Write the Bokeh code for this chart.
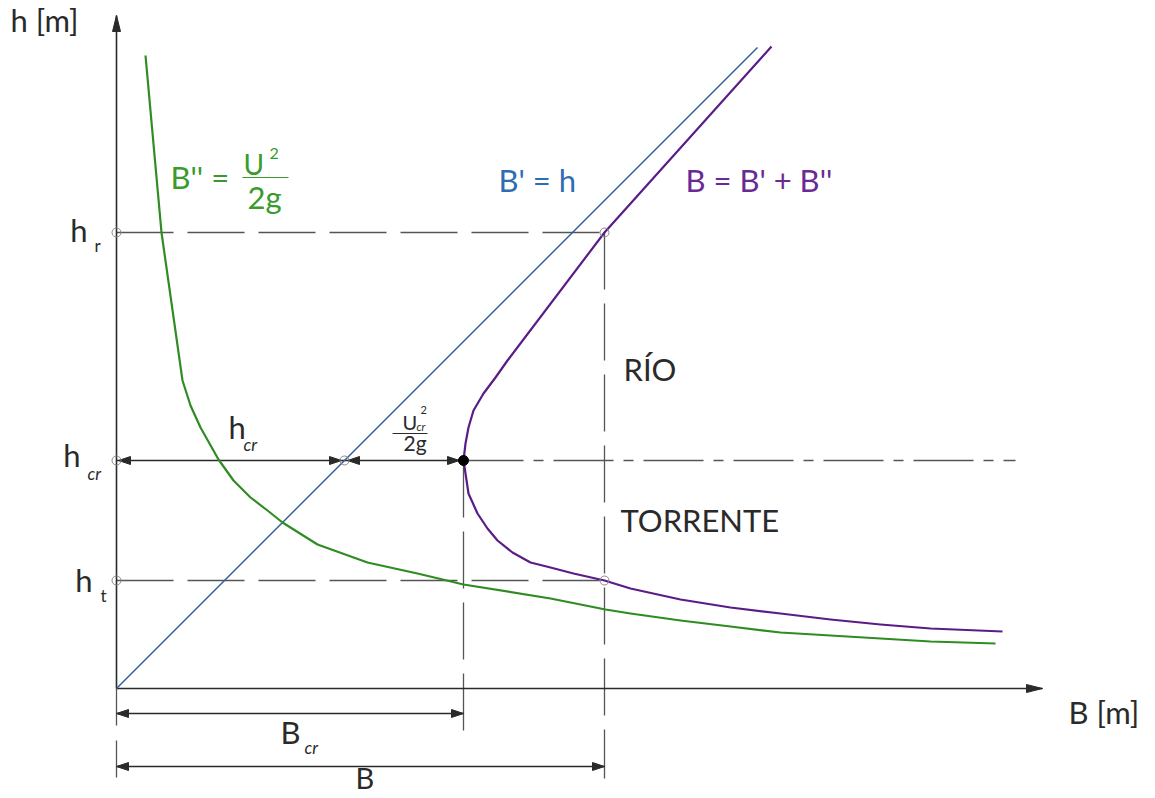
from bokeh.plotting import figure
from bokeh.models import Range1d
from bokeh.core.properties import value
from bokeh.embed import file_html
from bokeh.resources import INLINE

# Specific energy diagram of a channel section (all values in m)
h_r = 4.56     # subcritical depth (río)
h_cr = 2.28    # critical depth
h_t = 1.08     # supercritical depth (torrente)
B_cr = 3.47    # minimum specific energy
B_rt = 4.88    # specific energy shared by h_r and h_t
h_top = 6.73   # end of the h axis
B_end = 9.26   # end of the B axis
h_dash_end = 8.99  # end of the critical-depth dash-dot line

# B' = h  (potential term)
pot_B = [0.0, 6.41]
pot_h = [0.0, 6.41]

# B'' = U^2 / 2g  (kinetic term)
kin_B = [0.29, 0.45, 0.66, 0.74, 0.84, 1.02, 1.17, 1.34, 1.51, 1.66, 2.01, 2.51,
         3.01, 3.47, 4.34, 4.89, 5.14, 5.64, 6.14, 6.64, 7.14, 7.64, 8.14, 8.79]
kin_h = [6.33, 4.56, 3.08, 2.83, 2.61, 2.29, 2.08, 1.91, 1.78, 1.66, 1.44, 1.26,
         1.15, 1.04, 0.90, 0.79, 0.75, 0.68, 0.62, 0.56, 0.53, 0.50, 0.47, 0.45]

# B = B' + B''  (total specific energy)
tot_B = [6.55, 4.88, 3.91, 3.79, 3.67, 3.57, 3.52, 3.49, 3.47, 3.49, 3.52, 3.61,
         3.71, 3.81, 3.96, 4.14, 4.34, 4.57, 4.88, 5.14, 5.64, 6.14, 6.64, 7.14,
         7.64, 8.14, 8.86]
tot_h = [6.42, 4.56, 3.28, 3.11, 2.95, 2.78, 2.61, 2.45, 2.28, 2.15, 1.95, 1.75,
         1.60, 1.48, 1.36, 1.26, 1.21, 1.15, 1.08, 1.00, 0.89, 0.81, 0.75, 0.69,
         0.64, 0.60, 0.57]

# dimension line levels below the B axis
dim_Bcr = -0.25
dim_B = -0.78
ext_low = -0.90
ext_cr_low = -0.47

PX = 0.01  # one screen pixel in data units (same scale on both axes)

GREEN = "#2f8c22"
GREEN_T = "#3a9a2c"
PURPLE = "#5a1c86"
PURPLE_T = "#6a2a94"
BLUE = "#2b5f93"
BLUE_T = "#2f6db2"
INK = "#2a2a2a"
GREY = "#555555"
FONT = value("Lato")

p = figure(width=1155, height=798, output_backend="svg", toolbar_location=None,
           x_range=Range1d(-1.16, 10.39), y_range=Range1d(-1.10, 6.88),
           x_axis_type=None, y_axis_type=None, min_border=0)
p.grid.visible = False
p.outline_line_color = None
p.background_fill_color = "white"
p.border_fill_color = "white"

# reference levels
p.segment(x0=[0, 0], y0=[h_r, h_t], x1=[B_rt, B_rt], y1=[h_r, h_t],
          line_color=GREY, line_width=1.3, line_dash="57 14")
p.segment(x0=[B_cr, B_rt], y0=[h_cr, h_r], x1=[B_cr, B_rt], y1=[ext_cr_low, ext_low],
          line_color=GREY, line_width=1.3, line_dash="57 14")
p.segment(x0=[0], y0=[0], x1=[0], y1=[ext_low],
          line_color=GREY, line_width=1.3, line_dash="37 15")
p.segment(x0=[B_cr], y0=[h_cr], x1=[h_dash_end], y1=[h_cr],
          line_color=GREY, line_width=1.3, line_dash="60 10 10 10")

# dimension lines
p.segment(x0=[0, 0, 0], y0=[h_cr, dim_Bcr, dim_B], x1=[B_cr, B_cr, B_rt],
          y1=[h_cr, dim_Bcr, dim_B], line_color=INK, line_width=1.3)

# axes
p.segment(x0=[0, 0], y0=[0, 0], x1=[0, B_end], y1=[h_top, 0],
          line_color=INK, line_width=1.6)

# curves
p.line(pot_B, pot_h, line_color=BLUE, line_width=1.4)
p.line(kin_B, kin_h, line_color=GREEN, line_width=2.2, line_join="round")
p.line(tot_B, tot_h, line_color=PURPLE, line_width=2.2, line_join="round")


def head(xt, yt, dx, dy, length=12, width=8):
    """Filled triangular arrow head with its tip at (xt, yt), pointing along (dx, dy)."""
    L = length * PX
    W = width * PX / 2
    bx, by = xt - dx * L, yt - dy * L
    return [xt, bx - dy * W, bx + dy * W], [yt, by + dx * W, by - dx * W]


tips = [
    (0, h_top, 0, 1, 16, 8), (B_end, 0, 1, 0, 16, 8),
    (2 * PX, h_cr, -1, 0, 12, 8), (h_cr - 3 * PX, h_cr, 1, 0, 12, 8),
    (h_cr + 3 * PX, h_cr, -1, 0, 12, 8), (B_cr - 4 * PX, h_cr, 1, 0, 12, 8),
    (0, dim_Bcr, -1, 0, 12, 8), (B_cr, dim_Bcr, 1, 0, 12, 8),
    (0, dim_B, -1, 0, 12, 8), (B_rt, dim_B, 1, 0, 12, 8),
]
hx, hy = zip(*[head(*t) for t in tips])
p.patches(list(hx), list(hy), fill_color=INK, line_color=INK, line_width=1)

# reference points
p.scatter(x=[0, 0, 0, B_rt, B_rt, h_cr], y=[h_r, h_cr, h_t, h_r, h_t, h_cr],
          marker="circle", size=9, fill_color=None, line_color="#888888", line_width=1)
p.scatter(x=[B_cr], y=[h_cr], marker="circle", size=10, fill_color="black", line_color="black")

# fraction bars
p.segment(x0=[1.26], y0=[5.11], x1=[1.72], y1=[5.11], line_color=GREEN_T, line_width=1.2)
p.segment(x0=[2.76], y0=[2.55], x1=[3.11], y1=[2.55], line_color=INK, line_width=1)


def label(x, y, text, size, color=INK, align="left", style="normal"):
    # y is the baseline; the svg text sits lower by about 0.45 em, so lift it
    lift = 0.45 * size * PX
    p.text(x=x, y=[v + lift for v in y], text=text, text_font=FONT,
           text_font_size=f"{size}px", text_color=color, text_align=align,
           text_baseline="alphabetic", text_font_style=style)


# curve names
label([0.54], [4.98], ["B'' ="], 31, GREEN_T)
label([1.27], [5.12], ["U"], 28, GREEN_T)
label([1.53], [5.28], ["2"], 16, GREEN_T)
label([1.31], [4.78], ["2g"], 31, GREEN_T)
label([3.82], [4.95], ["B' = h"], 31, BLUE_T)
label([5.69], [4.95], ["B = B' + B''"], 31, PURPLE_T)

# flow regimes and axis titles
label([5.07, 5.04], [3.06, 1.55], ["RÍO", "TORRENTE"], 31)
label([-1.06], [6.55], ["h [m]"], 31)
label([9.52], [-0.37], ["B [m]"], 31)

# depths on the h axis
label([-29 * PX, -36 * PX, -24 * PX], [h_r - 11 * PX, h_cr - 8 * PX, h_t - 13 * PX],
      ["h", "h", "h"], 31, align="right")
label([-22 * PX, -16 * PX], [h_r - 21 * PX, h_t - 23 * PX], ["r", "t"], 17)
label([-29 * PX], [h_cr - 21 * PX], ["cr"], 17, style="italic")

# dimension texts
label([1.12], [h_cr + 0.20], ["h"], 31)
label([1.27], [h_cr + 0.08], ["cr"], 17, style="italic")
label([2.86], [2.58], ["U"], 20)
label([3.00], [2.57], ["cr"], 11, style="italic")
label([3.04], [2.74], ["2"], 11)
label([2.87], [2.37], ["2g"], 21)
label([1.64], [-0.57], ["B"], 31)
label([2.39], [-1.02], ["B"], 29)
label([1.88], [-0.67], ["cr"], 17, style="italic")

open("out.html", "w").write(file_html(p, INLINE))
